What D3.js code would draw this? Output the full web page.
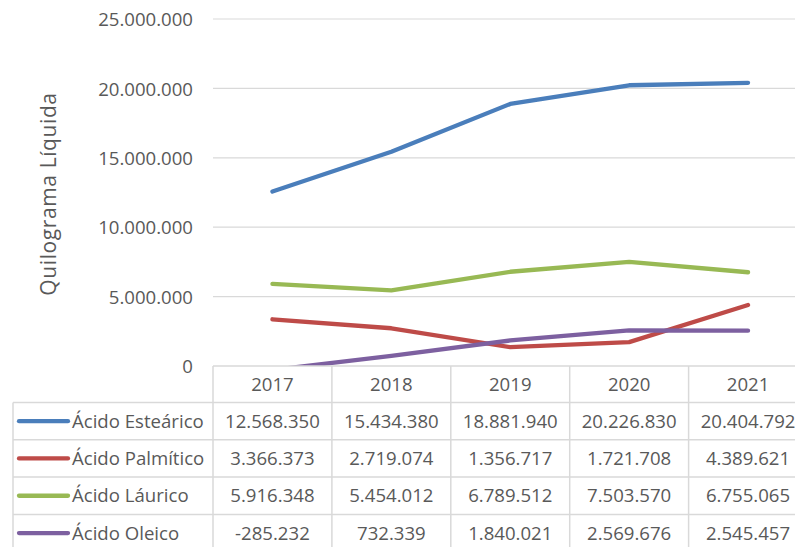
<!DOCTYPE html>
<html>
<head>
<meta charset="utf-8">
<script src="https://cdn.jsdelivr.net/npm/d3@7"></script>
<style>
  html, body { margin: 0; padding: 0; background: #fff; }
  svg { display: block; }
  text { font-family: "Open Sans", "Noto Sans", sans-serif; fill: #595959; }
</style>
</head>
<body>
<svg id="chart" width="795" height="547"></svg>
<script>
// Categories and series (kg líquidos por ano)
const years = ["2017", "2018", "2019", "2020", "2021"];
const seriesLabels = ["Ácido Esteárico", "Ácido Palmítico", "Ácido Láurico", "Ácido Oleico"];
const estearico = [12568350, 15434380, 18881940, 20226830, 20404792];
const palmitico = [3366373, 2719074, 1356717, 1721708, 4389621];
const laurico = [5916348, 5454012, 6789512, 7503570, 6755065];
const oleico = [-285232, 732339, 1840021, 2569676, 2545457];
const seriesColors = ["#4A7EBB", "#BE4B48", "#98B954", "#7D60A0"];
const yTicks = [0, 5000000, 10000000, 15000000, 20000000, 25000000];
const yTitle = "Quilograma Líquida";

const seriesValues = [estearico, palmitico, laurico, oleico];
const series = seriesLabels.map((label, i) => ({
  label,
  color: seriesColors[i],
  values: seriesValues[i]
}));

const locale = d3.formatLocale({
  decimal: ",", thousands: ".", grouping: [3], currency: ["", ""], minus: "-"
});
const fmt = locale.format(",d");

const svg = d3.select("#chart");

// Layout
const plotLeft = 213, plotTop = 19, plotBottom = 366;
const colW = 118.9;
const tableLeft = 13;
const headerH = 36.5, rowH = 37.3;

const x = d3.scaleBand().domain(years)
  .range([plotLeft, plotLeft + colW * years.length]).padding(0);
const y = d3.scaleLinear().domain([0, 25000000]).range([plotBottom, plotTop]);

// Gridlines
svg.append("g").selectAll("line").data(yTicks.filter(d => d > 0)).join("line")
  .attr("x1", plotLeft).attr("x2", 795)
  .attr("y1", d => y(d)).attr("y2", d => y(d))
  .attr("stroke", "#D9D9D9").attr("stroke-width", 1.2);

// Y axis labels
const yAxis = d3.axisLeft(y).tickValues(yTicks).tickFormat(fmt).tickSize(0).tickPadding(0);
const yg = svg.append("g").attr("transform", "translate(193,0)").call(yAxis);
yg.select(".domain").remove();
yg.selectAll("text")
  .style("font-family", "\"Open Sans\", sans-serif")
  .attr("font-size", 18.6).attr("fill", "#595959").attr("dy", "0.36em");

// Axis title
svg.append("text")
  .attr("transform", "translate(56,194) rotate(-90)")
  .attr("text-anchor", "middle")
  .attr("font-size", 21)
  .attr("letter-spacing", 0.6)
  .text(yTitle);

// Clip lines to the plot area
svg.append("clipPath").attr("id", "plotClip")
  .append("rect").attr("x", plotLeft).attr("y", 0)
  .attr("width", 795 - plotLeft).attr("height", plotBottom);

const line = d3.line()
  .x((d, i) => x(years[i]) + x.bandwidth() / 2)
  .y(d => y(d));

svg.append("g").attr("clip-path", "url(#plotClip)")
  .selectAll("path").data(series).join("path")
  .attr("d", d => line(d.values))
  .attr("fill", "none")
  .attr("stroke", d => d.color)
  .attr("stroke-width", 4.3)
  .attr("stroke-linejoin", "round")
  .attr("stroke-linecap", "round");

// Data table
const table = svg.append("g");
const border = "#D9D9D9";
const rowsTop = plotBottom + headerH;
const tableBottom = rowsTop + rowH * series.length;
const tableRight = plotLeft + colW * years.length;

// horizontal rules
table.append("line").attr("x1", plotLeft).attr("x2", tableRight)
  .attr("y1", plotBottom).attr("y2", plotBottom).attr("stroke", border).attr("stroke-width", 1.5);
table.selectAll("line.h").data(d3.range(series.length + 1)).join("line")
  .attr("class", "h")
  .attr("x1", tableLeft).attr("x2", tableRight)
  .attr("y1", i => rowsTop + i * rowH).attr("y2", i => rowsTop + i * rowH)
  .attr("stroke", border).attr("stroke-width", 1.5);
// vertical rules
table.append("line").attr("x1", tableLeft).attr("x2", tableLeft)
  .attr("y1", rowsTop).attr("y2", tableBottom).attr("stroke", border).attr("stroke-width", 1.5);
table.selectAll("line.v").data(d3.range(years.length + 1)).join("line")
  .attr("class", "v")
  .attr("x1", i => plotLeft + i * colW).attr("x2", i => plotLeft + i * colW)
  .attr("y1", plotBottom).attr("y2", tableBottom)
  .attr("stroke", border).attr("stroke-width", 1.5);

// header years
table.selectAll("text.year").data(years).join("text")
  .attr("class", "year")
  .attr("x", d => x(d) + x.bandwidth() / 2)
  .attr("y", plotBottom + headerH / 2)
  .attr("dy", "0.36em")
  .attr("text-anchor", "middle")
  .attr("font-size", 18.6)
  .text(d => d);

// series rows: legend key, name, values
const rows = table.selectAll("g.row").data(series).join("g")
  .attr("class", "row")
  .attr("transform", (d, i) => `translate(0,${rowsTop + i * rowH + rowH / 2})`);

rows.append("line")
  .attr("x1", 19).attr("x2", 68).attr("y1", 0).attr("y2", 0)
  .attr("stroke", d => d.color).attr("stroke-width", 4.3).attr("stroke-linecap", "round");

rows.append("text")
  .attr("x", 72).attr("dy", "0.36em")
  .attr("font-size", 18.6)
  .text(d => d.label);

rows.selectAll("text.val").data(d => d.values).join("text")
  .attr("class", "val")
  .attr("x", (v, i) => x(years[i]) + x.bandwidth() / 2)
  .attr("dy", "0.36em")
  .attr("text-anchor", "middle")
  .attr("font-size", 18.6)
  .text(v => fmt(v));
</script>
</body>
</html>
